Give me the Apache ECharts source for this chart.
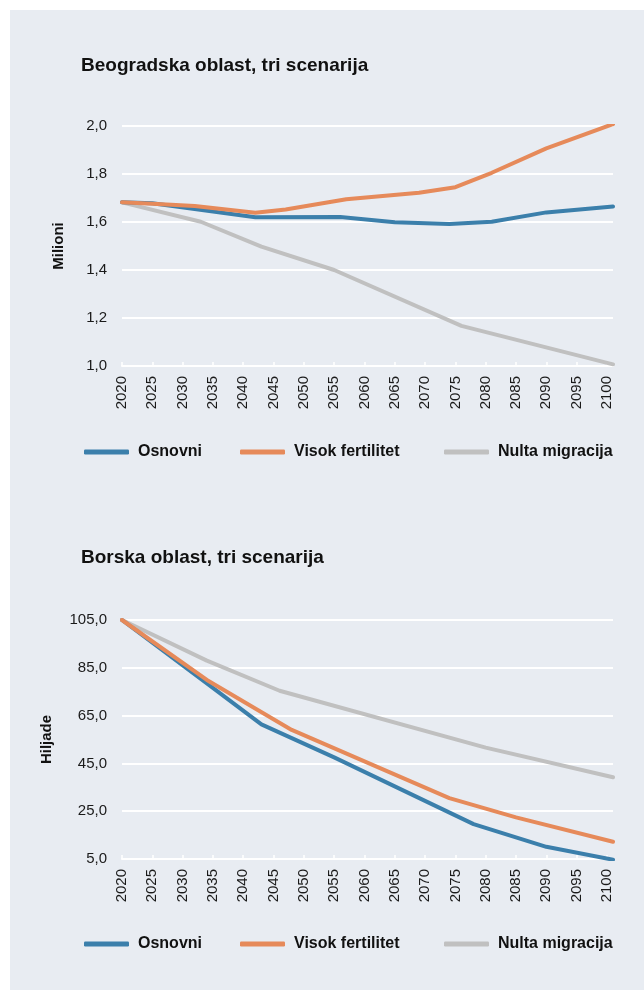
<!DOCTYPE html>
<html>
<head>
<meta charset="utf-8">
<script src="https://cdn.jsdelivr.net/npm/echarts@6/dist/echarts.min.js"></script>
<style>
  html, body { margin: 0; padding: 0; background: #ffffff; }
  #panel { position: absolute; left: 10px; top: 10px; width: 634px; height: 980px; background: #e8ecf2; }
  #chart { position: absolute; left: 0; top: 0; width: 644px; height: 991px; }
</style>
</head>
<body>
<div id="panel"></div>
<div id="chart"></div>
<script>
  // tick labels on the year axis
  const yearTicks = [2020, 2025, 2030, 2035, 2040, 2045, 2050, 2055, 2060,
                     2065, 2070, 2075, 2080, 2085, 2090, 2095, 2100];
  const seriesNames = ['Osnovni', 'Visok fertilitet', 'Nulta migracija'];

  // Beogradska oblast, milioni  [godina, vrednost]
  const bgOsnovni = [[2020, 1.682], [2025, 1.678], [2042, 1.620], [2056, 1.621], [2065, 1.599],
                     [2074, 1.592], [2081, 1.601], [2090, 1.640], [2101, 1.665]];
  const bgFertilitet = [[2020, 1.682], [2025, 1.676], [2032, 1.667], [2042, 1.639], [2047, 1.652],
                        [2057, 1.695], [2069, 1.722], [2075, 1.745], [2081, 1.805], [2090, 1.907], [2101, 2.008]];
  const bgMigracija = [[2020, 1.682], [2033, 1.601], [2043, 1.497], [2055, 1.400], [2076, 1.167], [2101, 1.007]];

  // Borska oblast, hiljade
  const borOsnovni = [[2020, 105], [2034, 78.5], [2043, 61.3], [2055, 47.5], [2078, 19.6], [2090, 10.1], [2101, 4.7]];
  const borFertilitet = [[2020, 105], [2034, 79.9], [2048, 59.0], [2074, 30.5], [2085, 22.4], [2101, 12.2]];
  const borMigracija = [[2020, 105], [2034, 88.0], [2046, 75.4], [2080, 51.6], [2101, 39.2]];

  const colors = ['#3b7fab', '#e68a5a', '#c0c0c0'];
  const font = 'Liberation Sans, Arial, sans-serif';

  let chart = echarts.init(document.getElementById('chart'));

  function xAxis(gridIndex) {
    return {
      type: 'value',
      gridIndex: gridIndex,
      min: 2020,
      max: 2101,
      axisLine: { show: true, lineStyle: { color: '#ffffff', width: 2 } },
      axisTick: { show: true, inside: true, length: 4, customValues: yearTicks,
                  lineStyle: { color: '#ffffff', width: 1.5 } },
      axisLabel: { rotate: 90, margin: 10, customValues: yearTicks, color: '#1a1a1a',
                   fontSize: 15, fontFamily: font,
                   formatter: function (v) { return String(v); } },
      splitLine: { show: false }
    };
  }

  function yAxis(gridIndex, name, min, max, interval, nameGap) {
    return {
      type: 'value',
      gridIndex: gridIndex,
      min: min,
      max: max,
      interval: interval,
      name: name,
      nameLocation: 'middle',
      nameGap: nameGap,
      nameTextStyle: { fontWeight: 'bold', fontSize: 15, color: '#111', fontFamily: font },
      axisLine: { show: false },
      axisTick: { show: false },
      axisLabel: {
        margin: 15, color: '#1a1a1a', fontSize: 15, fontFamily: font,
        formatter: function (v) { return v.toFixed(1).replace('.', ','); }
      },
      splitLine: { lineStyle: { color: '#ffffff', width: 2 } }
    };
  }

  function line(name, idx, data, colorIdx) {
    return {
      name: name,
      type: 'line',
      xAxisIndex: idx,
      yAxisIndex: idx,
      data: data,
      symbol: 'none',
      color: colors[colorIdx],
      lineStyle: { width: 4, color: colors[colorIdx], cap: 'round', join: 'round' },
      animation: false
    };
  }

  function legend(name, left, top) {
    return {
      data: [name],
      left: left,
      top: top,
      padding: 0,
      icon: 'roundRect',
      itemWidth: 45,
      itemHeight: 5,
      textStyle: { fontWeight: 'bold', fontSize: 16, color: '#111', fontFamily: font, padding: [0, 0, 0, 4] }
    };
  }

  let option = {
    title: [
      { text: 'Beogradska oblast, tri scenarija', left: 81, top: 56, padding: 0,
        textStyle: { fontSize: 19, fontWeight: 'bold', color: '#111', fontFamily: font } },
      { text: 'Borska oblast, tri scenarija', left: 81, top: 548, padding: 0,
        textStyle: { fontSize: 19, fontWeight: 'bold', color: '#111', fontFamily: font } }
    ],
    legend: [
      legend(seriesNames[0], 84, 444), legend(seriesNames[1], 240, 444), legend(seriesNames[2], 444, 444),
      legend(seriesNames[0], 84, 936), legend(seriesNames[1], 240, 936), legend(seriesNames[2], 444, 936)
    ],
    grid: [
      { left: 122, right: 31, top: 126, height: 240 },
      { left: 122, right: 31, top: 620, height: 239 }
    ],
    xAxis: [xAxis(0), xAxis(1)],
    yAxis: [
      yAxis(0, 'Milioni', 1, 2, 0.2, 56),
      yAxis(1, 'Hiljade', 5, 105, 20, 68)
    ],
    series: [
      line(seriesNames[2], 0, bgMigracija, 2),
      line(seriesNames[0], 0, bgOsnovni, 0),
      line(seriesNames[1], 0, bgFertilitet, 1),
      line(seriesNames[2], 1, borMigracija, 2),
      line(seriesNames[0], 1, borOsnovni, 0),
      line(seriesNames[1], 1, borFertilitet, 1)
    ]
  };

  chart.setOption(option);
</script>
</body>
</html>
